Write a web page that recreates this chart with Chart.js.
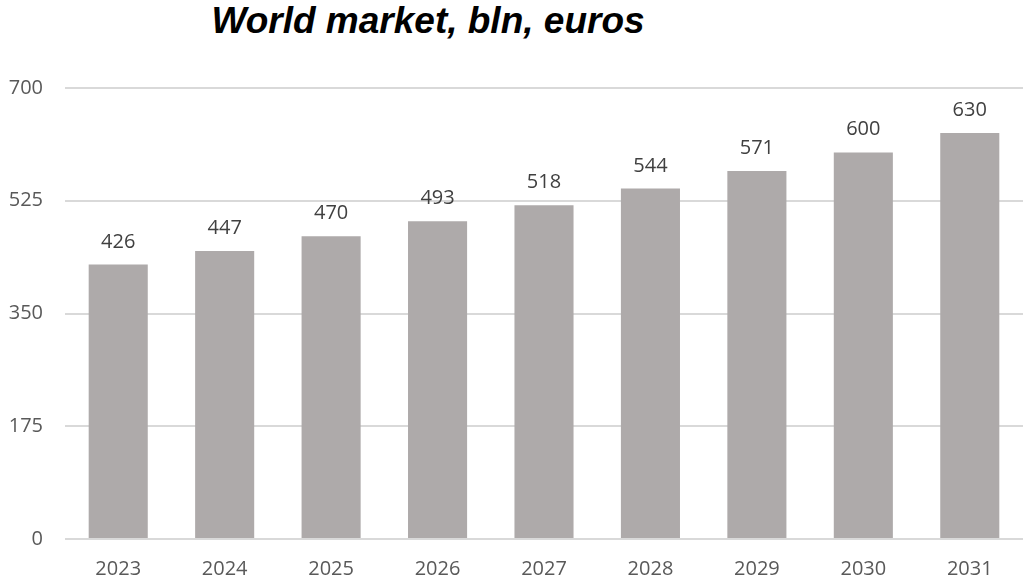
<!DOCTYPE html>
<html>
<head>
<meta charset="utf-8">
<script src="https://cdn.jsdelivr.net/npm/chart.js@4"></script>
<style>
  html, body { margin: 0; padding: 0; background: #fff; }
  #wrap { position: relative; width: 1025px; height: 581px; }
  #title {
    position: absolute; left: 0; top: -1px; width: 856px; text-align: center;
    font: italic bold 37px "Liberation Sans", Arial, sans-serif; color: #000;
    line-height: 44px;
  }
  canvas { position: absolute; left: 0; top: 0; }
</style>
</head>
<body>
<div id="wrap">
  <div id="title">World market, bln, euros</div>
  <canvas id="market-chart" width="1025" height="581"></canvas>
</div>
<script>
const years = ['2023', '2024', '2025', '2026', '2027', '2028', '2029', '2030', '2031'];
const marketValues = [426, 447, 470, 493, 518, 544, 571, 600, 630];
const yTicks = [0, 175, 350, 525, 700];

// value labels above each bar
const valueLabels = {
    id: 'valueLabels',
    afterDatasetsDraw(chart) {
        const ctx = chart.ctx;
        ctx.save();
        ctx.font = '20px "Open Sans", sans-serif';
        ctx.fillStyle = '#404040';
        ctx.textAlign = 'center';
        ctx.textBaseline = 'alphabetic';
        chart.getDatasetMeta(0).data.forEach(function(bar, i) {
            ctx.fillText(marketValues[i], bar.x, bar.y - 17);
        });
        ctx.restore();
    }
};

const ctx = document.getElementById('market-chart').getContext('2d');
const myChart = new Chart(ctx, {
    type: 'bar',
    data: {
        labels: years,
        datasets: [{
            data: marketValues,
            backgroundColor: '#AEAAAA',
            categoryPercentage: 1,
            barPercentage: 0.555
        }]
    },
    options: {
        responsive: false,
        animation: false,
        layout: { padding: { top: 88, right: 2, bottom: 0, left: 0 } },
        plugins: {
            legend: { display: false },
            tooltip: { enabled: false }
        },
        scales: {
            x: {
                grid: { display: false, drawTicks: false },
                border: { display: false },
                ticks: {
                    color: '#595959',
                    font: { family: 'Open Sans', size: 20 },
                    padding: 18
                },
                afterFit(scale) { scale.height = 42; }
            },
            y: {
                min: 0,
                max: 700,
                afterBuildTicks(scale) {
                    scale.ticks = yTicks.map(function(v) { return { value: v }; });
                },
                grid: { color: '#D9D9D9', lineWidth: 2, drawTicks: false },
                border: { display: false },
                ticks: {
                    color: '#595959',
                    font: { family: 'Open Sans', size: 20 },
                    padding: 22
                },
                afterFit(scale) { scale.width = 65; }
            }
        }
    },
    plugins: [valueLabels]
});
</script>
</body>
</html>
